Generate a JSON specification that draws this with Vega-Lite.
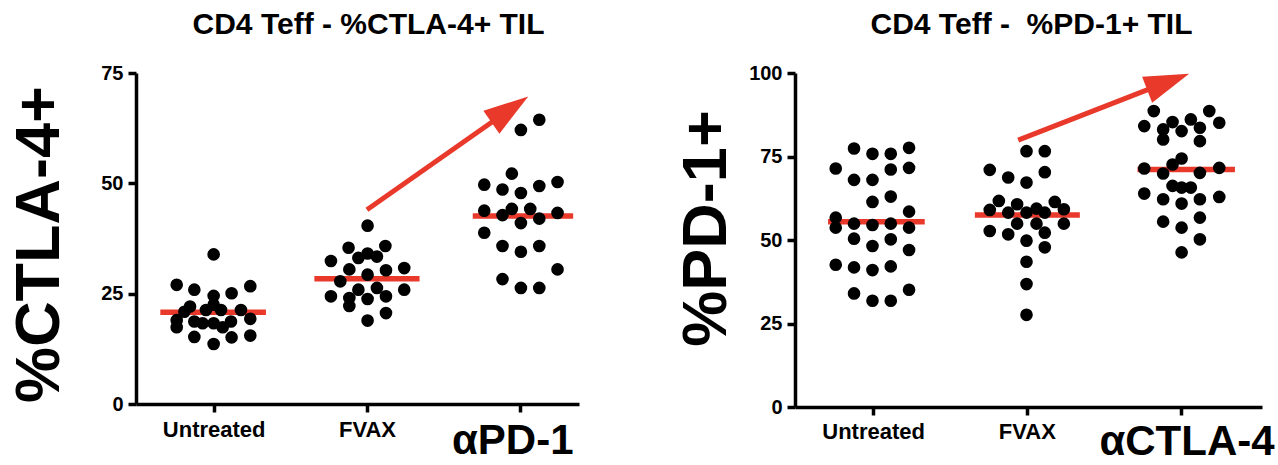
{
  "$schema": "https://vega.github.io/schema/vega-lite/v6.json",
  "background": "white",
  "padding": {"left": 8, "top": 10, "right": 0, "bottom": 0},
  "config": {"view": {"stroke": null}, "font": "Liberation Sans"},
  "spacing": 95,
  "datasets": {
    "left": [
      {"group": "Untreated", "x": 1.0, "v": 33.9}, {"group": "Untreated", "x": 0.759, "v": 27.0}, {"group": "Untreated", "x": 0.874, "v": 25.9}, {"group": "Untreated", "x": 1.239, "v": 26.7}, {"group": "Untreated", "x": 1.0, "v": 24.5}, {"group": "Untreated", "x": 1.117, "v": 25.1}, {"group": "Untreated", "x": 0.846, "v": 22.1}, {"group": "Untreated", "x": 0.809, "v": 20.9}, {"group": "Untreated", "x": 0.95, "v": 21.3}, {"group": "Untreated", "x": 1.0, "v": 22.5}, {"group": "Untreated", "x": 1.048, "v": 21.3}, {"group": "Untreated", "x": 1.178, "v": 21.3}, {"group": "Untreated", "x": 0.759, "v": 19.0}, {"group": "Untreated", "x": 0.759, "v": 17.4}, {"group": "Untreated", "x": 0.874, "v": 18.7}, {"group": "Untreated", "x": 0.928, "v": 18.3}, {"group": "Untreated", "x": 1.0, "v": 18.3}, {"group": "Untreated", "x": 1.059, "v": 17.4}, {"group": "Untreated", "x": 1.113, "v": 18.7}, {"group": "Untreated", "x": 1.239, "v": 19.3}, {"group": "Untreated", "x": 1.239, "v": 15.5}, {"group": "Untreated", "x": 0.874, "v": 15.2}, {"group": "Untreated", "x": 1.0, "v": 13.6}, {"group": "Untreated", "x": 1.117, "v": 15.1},
      {"group": "FVAX", "x": 2.004, "v": 40.4}, {"group": "FVAX", "x": 1.88, "v": 35.4}, {"group": "FVAX", "x": 2.12, "v": 35.8}, {"group": "FVAX", "x": 1.944, "v": 33.1}, {"group": "FVAX", "x": 2.004, "v": 34.1}, {"group": "FVAX", "x": 2.065, "v": 33.4}, {"group": "FVAX", "x": 1.765, "v": 32.4}, {"group": "FVAX", "x": 1.885, "v": 30.5}, {"group": "FVAX", "x": 2.004, "v": 29.3}, {"group": "FVAX", "x": 2.124, "v": 30.3}, {"group": "FVAX", "x": 2.243, "v": 30.8}, {"group": "FVAX", "x": 1.826, "v": 27.8}, {"group": "FVAX", "x": 1.944, "v": 25.9}, {"group": "FVAX", "x": 2.065, "v": 26.3}, {"group": "FVAX", "x": 2.243, "v": 25.9}, {"group": "FVAX", "x": 1.765, "v": 24.4}, {"group": "FVAX", "x": 1.885, "v": 24.0}, {"group": "FVAX", "x": 1.885, "v": 22.2}, {"group": "FVAX", "x": 2.004, "v": 23.8}, {"group": "FVAX", "x": 2.124, "v": 24.4}, {"group": "FVAX", "x": 2.124, "v": 20.6}, {"group": "FVAX", "x": 2.004, "v": 18.9},
      {"group": "aPD-1", "x": 3.124, "v": 64.4}, {"group": "aPD-1", "x": 3.004, "v": 62.1}, {"group": "aPD-1", "x": 2.945, "v": 52.2}, {"group": "aPD-1", "x": 2.765, "v": 49.7}, {"group": "aPD-1", "x": 2.884, "v": 48.6}, {"group": "aPD-1", "x": 3.004, "v": 47.8}, {"group": "aPD-1", "x": 3.124, "v": 49.4}, {"group": "aPD-1", "x": 3.243, "v": 50.3}, {"group": "aPD-1", "x": 2.765, "v": 43.8}, {"group": "aPD-1", "x": 2.884, "v": 42.8}, {"group": "aPD-1", "x": 2.945, "v": 44.2}, {"group": "aPD-1", "x": 3.065, "v": 44.2}, {"group": "aPD-1", "x": 3.004, "v": 41.0}, {"group": "aPD-1", "x": 3.124, "v": 42.0}, {"group": "aPD-1", "x": 3.243, "v": 43.3}, {"group": "aPD-1", "x": 2.765, "v": 38.8}, {"group": "aPD-1", "x": 2.884, "v": 35.8}, {"group": "aPD-1", "x": 3.004, "v": 34.5}, {"group": "aPD-1", "x": 3.124, "v": 35.8}, {"group": "aPD-1", "x": 3.243, "v": 30.5}, {"group": "aPD-1", "x": 2.884, "v": 28.3}, {"group": "aPD-1", "x": 3.004, "v": 26.3}, {"group": "aPD-1", "x": 3.124, "v": 26.3}
    ],
    "leftMed": [
      {"group": "Untreated", "x1": 0.652, "x2": 1.341, "v": 20.8},
      {"group": "FVAX", "x1": 1.657, "x2": 2.343, "v": 28.4},
      {"group": "aPD-1", "x1": 2.69, "x2": 3.345, "v": 42.6}
    ],
    "right": [
      {"group": "Untreated", "x": 0.757, "v": 71.4}, {"group": "Untreated", "x": 0.757, "v": 56.7}, {"group": "Untreated", "x": 0.757, "v": 53.7}, {"group": "Untreated", "x": 0.757, "v": 42.6},
      {"group": "Untreated", "x": 0.876, "v": 77.4}, {"group": "Untreated", "x": 0.876, "v": 68.0}, {"group": "Untreated", "x": 0.876, "v": 54.9}, {"group": "Untreated", "x": 0.876, "v": 50.4}, {"group": "Untreated", "x": 0.876, "v": 41.8}, {"group": "Untreated", "x": 0.876, "v": 34.0},
      {"group": "Untreated", "x": 0.996, "v": 75.8}, {"group": "Untreated", "x": 0.996, "v": 68.0}, {"group": "Untreated", "x": 0.996, "v": 61.4}, {"group": "Untreated", "x": 0.996, "v": 54.5}, {"group": "Untreated", "x": 0.996, "v": 48.2}, {"group": "Untreated", "x": 0.996, "v": 41.0}, {"group": "Untreated", "x": 0.996, "v": 31.8},
      {"group": "Untreated", "x": 1.115, "v": 75.8}, {"group": "Untreated", "x": 1.115, "v": 71.1}, {"group": "Untreated", "x": 1.115, "v": 63.0}, {"group": "Untreated", "x": 1.115, "v": 54.9}, {"group": "Untreated", "x": 1.115, "v": 50.2}, {"group": "Untreated", "x": 1.115, "v": 42.1}, {"group": "Untreated", "x": 1.115, "v": 31.8},
      {"group": "Untreated", "x": 1.234, "v": 77.6}, {"group": "Untreated", "x": 1.234, "v": 71.6}, {"group": "Untreated", "x": 1.234, "v": 58.5}, {"group": "Untreated", "x": 1.234, "v": 53.7}, {"group": "Untreated", "x": 1.234, "v": 47.0}, {"group": "Untreated", "x": 1.234, "v": 35.1},
      {"group": "FVAX", "x": 1.759, "v": 71.0}, {"group": "FVAX", "x": 1.759, "v": 59.0}, {"group": "FVAX", "x": 1.759, "v": 52.7}, {"group": "FVAX", "x": 1.818, "v": 61.7}, {"group": "FVAX", "x": 1.879, "v": 68.7}, {"group": "FVAX", "x": 1.879, "v": 58.2}, {"group": "FVAX", "x": 1.879, "v": 51.7}, {"group": "FVAX", "x": 1.937, "v": 60.7}, {"group": "FVAX", "x": 1.937, "v": 54.9}, {"group": "FVAX", "x": 1.998, "v": 76.6}, {"group": "FVAX", "x": 1.998, "v": 67.2}, {"group": "FVAX", "x": 1.998, "v": 58.2}, {"group": "FVAX", "x": 1.998, "v": 49.8}, {"group": "FVAX", "x": 1.998, "v": 43.5}, {"group": "FVAX", "x": 1.998, "v": 36.8}, {"group": "FVAX", "x": 1.998, "v": 27.6}, {"group": "FVAX", "x": 2.063, "v": 59.4}, {"group": "FVAX", "x": 2.063, "v": 54.9}, {"group": "FVAX", "x": 2.117, "v": 76.6}, {"group": "FVAX", "x": 2.117, "v": 70.3}, {"group": "FVAX", "x": 2.117, "v": 58.2}, {"group": "FVAX", "x": 2.117, "v": 52.2}, {"group": "FVAX", "x": 2.117, "v": 47.8}, {"group": "FVAX", "x": 2.182, "v": 61.4}, {"group": "FVAX", "x": 2.241, "v": 59.2}, {"group": "FVAX", "x": 2.241, "v": 54.9},
      {"group": "aCTLA-4", "x": 2.826, "v": 88.6}, {"group": "aCTLA-4", "x": 2.764, "v": 84.1}, {"group": "aCTLA-4", "x": 2.887, "v": 83.1}, {"group": "aCTLA-4", "x": 2.887, "v": 80.1}, {"group": "aCTLA-4", "x": 2.948, "v": 85.3}, {"group": "aCTLA-4", "x": 3.007, "v": 82.6}, {"group": "aCTLA-4", "x": 3.067, "v": 86.1}, {"group": "aCTLA-4", "x": 3.126, "v": 83.6}, {"group": "aCTLA-4", "x": 3.126, "v": 79.6}, {"group": "aCTLA-4", "x": 3.187, "v": 88.6}, {"group": "aCTLA-4", "x": 3.252, "v": 85.1}, {"group": "aCTLA-4", "x": 2.764, "v": 71.4}, {"group": "aCTLA-4", "x": 2.887, "v": 69.9}, {"group": "aCTLA-4", "x": 2.948, "v": 72.6}, {"group": "aCTLA-4", "x": 3.007, "v": 74.4}, {"group": "aCTLA-4", "x": 3.126, "v": 70.1}, {"group": "aCTLA-4", "x": 3.252, "v": 71.6}, {"group": "aCTLA-4", "x": 2.764, "v": 63.9}, {"group": "aCTLA-4", "x": 2.887, "v": 62.2}, {"group": "aCTLA-4", "x": 2.948, "v": 66.2}, {"group": "aCTLA-4", "x": 3.007, "v": 65.7}, {"group": "aCTLA-4", "x": 3.067, "v": 65.7}, {"group": "aCTLA-4", "x": 3.126, "v": 62.2}, {"group": "aCTLA-4", "x": 3.252, "v": 62.9}, {"group": "aCTLA-4", "x": 3.007, "v": 60.9}, {"group": "aCTLA-4", "x": 2.887, "v": 55.5}, {"group": "aCTLA-4", "x": 3.126, "v": 56.7}, {"group": "aCTLA-4", "x": 3.007, "v": 53.7}, {"group": "aCTLA-4", "x": 3.126, "v": 50.2}, {"group": "aCTLA-4", "x": 3.007, "v": 46.3}
    ],
    "rightMed": [
      {"group": "Untreated", "x1": 0.707, "x2": 1.336, "v": 55.5},
      {"group": "FVAX", "x1": 1.662, "x2": 2.345, "v": 57.5},
      {"group": "aCTLA-4", "x1": 2.72, "x2": 3.354, "v": 71.1}
    ],
    "leftArrow": [{"x": 2.0, "v": 44.0, "xe": 2.918, "ve": 66.4, "xt": 3.052, "vt": 69.7}],
    "rightArrow": [{"x": 1.944, "v": 79.9, "xe": 2.904, "ve": 97.1, "xt": 3.056, "vt": 99.8}]
  },
  "hconcat": [
    {
      "width": 443,
      "height": 331,
      "title": {"text": "CD4 Teff - %CTLA-4+ TIL", "font": "Liberation Sans", "fontSize": 30, "fontWeight": "bold", "color": "black", "anchor": "middle", "frame": "group", "dx": 11, "offset": 23},
      "layer": [
        {
          "data": {"name": "leftMed"},
          "mark": {"type": "rule", "color": "#e8392b", "strokeWidth": 5.5},
          "encoding": {
            "x": {"field": "x1", "type": "quantitative", "scale": {"domain": [0.4935, 3.383], "nice": false, "zero": false},
              "axis": {"values": [1, 2, 3], "labelExpr": "datum.value == 1 ? 'Untreated' : datum.value == 2 ? 'FVAX' : 'αPD-1'", "title": null, "grid": false, "domainColor": "black", "domainWidth": 3.5, "tickColor": "black", "tickWidth": 3.5, "tickSize": 8, "labelFont": "Liberation Sans", "labelFontWeight": "bold", "labelColor": "black", "labelFontSize": {"condition": {"test": "datum.value == 3", "value": 42}, "value": 22}, "labelOffset": {"condition": {"test": "datum.value == 3", "value": -8}, "value": 0}, "labelPadding": {"condition": {"test": "datum.value == 3", "value": 8}, "value": 7}, "labelBaseline": "top", "labelOverlap": false, "labelFlush": false}},
            "x2": {"field": "x2"},
            "y": {"field": "v", "type": "quantitative", "scale": {"domain": [0, 75], "nice": false},
              "axis": {"values": [0, 25, 50, 75], "title": "%CTLA-4+", "titleFont": "Liberation Sans", "titleFontSize": 63, "titleFontWeight": "bold", "titleColor": "black", "titleAngle": 270, "titleAlign": "center", "titleBaseline": "alphabetic", "titleX": -78, "titleY": 171, "grid": false, "domainColor": "black", "domainWidth": 3.5, "tickColor": "black", "tickWidth": 3.5, "tickSize": 8, "labelFont": "Liberation Sans", "labelFontWeight": "bold", "labelFontSize": 20, "labelColor": "black", "labelPadding": 5}}
          }
        },
        {
          "data": {"name": "left"},
          "mark": {"type": "point", "filled": true, "color": "black", "opacity": 1, "size": 160},
          "encoding": {"x": {"field": "x", "type": "quantitative"}, "y": {"field": "v", "type": "quantitative"}}
        },
        {
          "data": {"name": "leftArrow"},
          "mark": {"type": "rule", "color": "#e8392b", "strokeWidth": 5},
          "encoding": {"x": {"field": "x", "type": "quantitative"}, "y": {"field": "v", "type": "quantitative"}, "x2": {"field": "xe"}, "y2": {"field": "ve"}}
        },
        {
          "data": {"name": "leftArrow"},
          "mark": {"type": "point", "shape": "M0,0L-0.62,2L0.62,2Z", "filled": true, "color": "#e8392b", "opacity": 1, "size": 2025, "angle": 55},
          "encoding": {"x": {"field": "xt", "type": "quantitative"}, "y": {"field": "vt", "type": "quantitative"}}
        }
      ]
    },
    {
      "width": 467,
      "height": 334,
      "title": {"text": "CD4 Teff - \u00a0%PD-1+ TIL", "font": "Liberation Sans", "fontSize": 30, "fontWeight": "bold", "color": "black", "anchor": "middle", "frame": "group", "dx": 3, "offset": 23},
      "layer": [
        {
          "data": {"name": "rightMed"},
          "mark": {"type": "rule", "color": "#e8392b", "strokeWidth": 5.5},
          "encoding": {
            "x": {"field": "x1", "type": "quantitative", "scale": {"domain": [0.492, 3.53], "nice": false, "zero": false},
              "axis": {"values": [1, 2, 3], "labelExpr": "datum.value == 1 ? 'Untreated' : datum.value == 2 ? 'FVAX' : 'αCTLA-4'", "title": null, "grid": false, "domainColor": "black", "domainWidth": 3.5, "tickColor": "black", "tickWidth": 3.5, "tickSize": 8, "labelFont": "Liberation Sans", "labelFontWeight": "bold", "labelColor": "black", "labelFontSize": {"condition": {"test": "datum.value == 3", "value": 42}, "value": 22}, "labelOffset": {"condition": {"test": "datum.value == 3", "value": 6}, "value": 0}, "labelPadding": 6, "labelBaseline": "top", "labelOverlap": false, "labelFlush": false}},
            "x2": {"field": "x2"},
            "y": {"field": "v", "type": "quantitative", "scale": {"domain": [0, 100], "nice": false},
              "axis": {"values": [0, 25, 50, 75, 100], "title": "%PD-1+", "titleFont": "Liberation Sans", "titleFontSize": 63, "titleFontWeight": "bold", "titleColor": "black", "titleAngle": 270, "titleAlign": "center", "titleBaseline": "alphabetic", "titleX": -70, "titleY": 155, "grid": false, "domainColor": "black", "domainWidth": 3.5, "tickColor": "black", "tickWidth": 3.5, "tickSize": 8, "labelFont": "Liberation Sans", "labelFontWeight": "bold", "labelFontSize": 20, "labelColor": "black", "labelPadding": 5}}
          }
        },
        {
          "data": {"name": "right"},
          "mark": {"type": "point", "filled": true, "color": "black", "opacity": 1, "size": 160},
          "encoding": {"x": {"field": "x", "type": "quantitative"}, "y": {"field": "v", "type": "quantitative"}}
        },
        {
          "data": {"name": "rightArrow"},
          "mark": {"type": "rule", "color": "#e8392b", "strokeWidth": 5},
          "encoding": {"x": {"field": "x", "type": "quantitative"}, "y": {"field": "v", "type": "quantitative"}, "x2": {"field": "xe"}, "y2": {"field": "ve"}}
        },
        {
          "data": {"name": "rightArrow"},
          "mark": {"type": "point", "shape": "M0,0L-0.62,2L0.62,2Z", "filled": true, "color": "#e8392b", "opacity": 1, "size": 2025, "angle": 69},
          "encoding": {"x": {"field": "xt", "type": "quantitative"}, "y": {"field": "vt", "type": "quantitative"}}
        }
      ]
    }
  ]
}
